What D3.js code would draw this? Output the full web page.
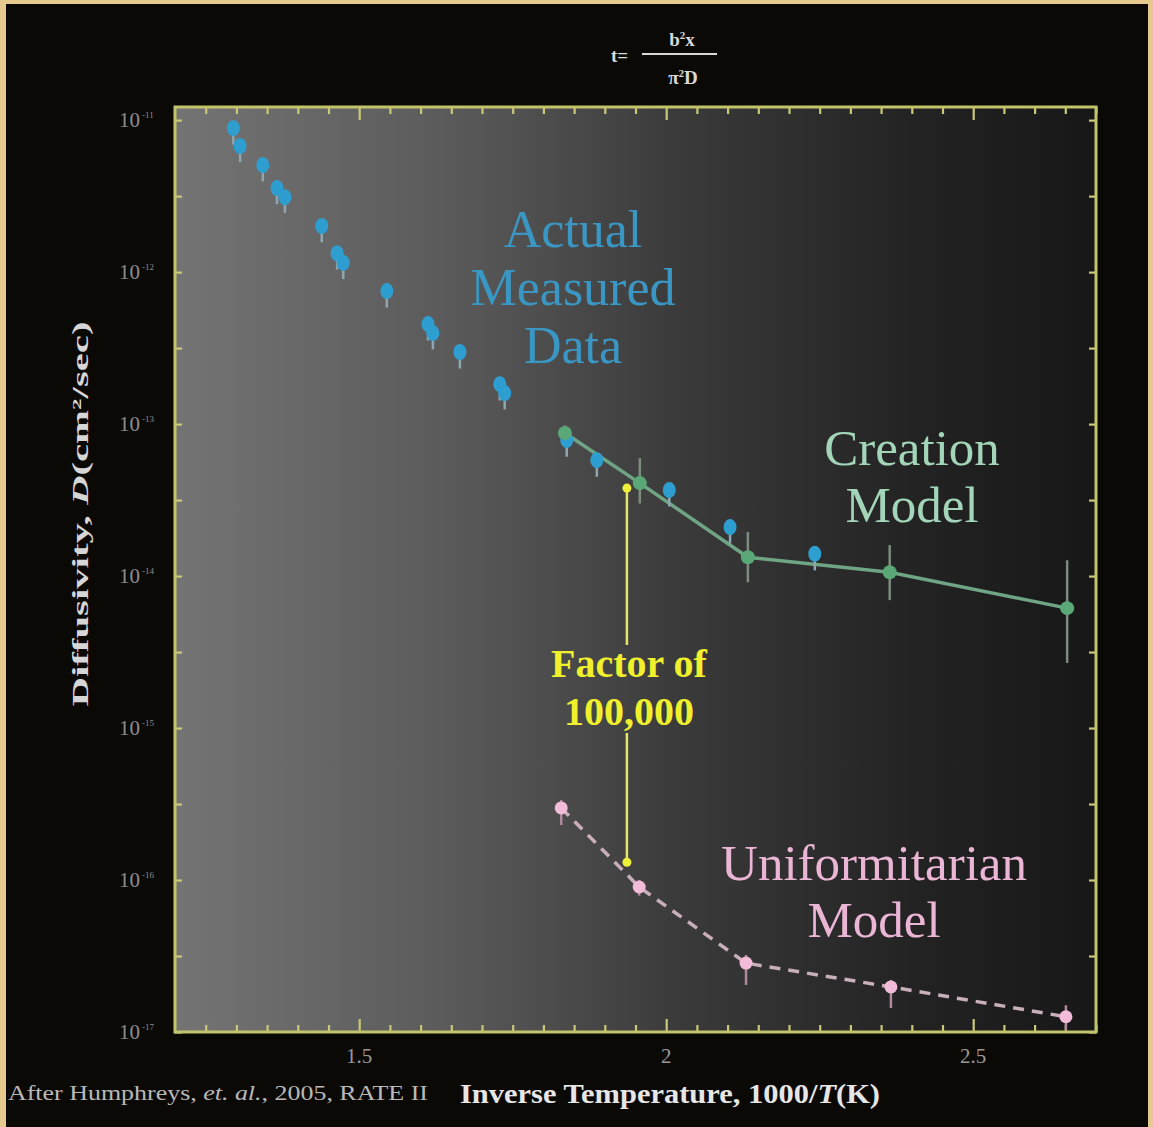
<!DOCTYPE html>
<html><head><meta charset="utf-8">
<script src="https://cdn.jsdelivr.net/npm/d3@7"></script>
<style>html,body{margin:0;padding:0;background:#0b0906;} svg{display:block}</style>
</head><body>
<svg id="c" width="1153" height="1127"></svg>
<script>
// ---- data ----
const measuredX    = [1.295, 1.306, 1.343, 1.366, 1.379, 1.439, 1.464, 1.474, 1.545, 1.612, 1.620, 1.664, 1.729, 1.737, 1.838, 1.887, 2.005, 2.104, 2.242];
const measuredD    = [8.85e-12, 6.75e-12, 5.06e-12, 3.57e-12, 3.11e-12, 2.01e-12, 1.33e-12, 1.15e-12, 7.5e-13, 4.55e-13, 3.97e-13, 2.98e-13, 1.83e-13, 1.60e-13, 7.85e-14, 5.79e-14, 3.68e-14, 2.10e-14, 1.40e-14];
const measuredLow  = [6.9e-12, 5.3e-12, 3.95e-12, 2.8e-12, 2.45e-12, 1.57e-12, 1.04e-12, 9.0e-13, 5.85e-13, 3.55e-13, 3.1e-13, 2.32e-13, 1.43e-13, 1.25e-13, 6.1e-14, 4.5e-14, 2.87e-14, 1.64e-14, 1.09e-14];
const measuredHigh = [9.5e-12, 7.2e-12, 5.4e-12, 3.8e-12, 3.3e-12, 2.15e-12, 1.42e-12, 1.23e-12, 8.0e-13, 4.87e-13, 4.25e-13, 3.19e-13, 1.96e-13, 1.71e-13, 8.4e-14, 6.2e-14, 3.94e-14, 2.25e-14, 1.5e-14];

const creationX    = [1.835, 1.957, 2.133, 2.364, 2.653];
const creationD    = [8.73e-14, 4.09e-14, 1.33e-14, 1.06e-14, 6.15e-15];
const creationLow  = [7.2e-14, 3.0e-14, 9.1e-15, 6.95e-15, 2.68e-15];
const creationHigh = [9.8e-14, 5.97e-14, 1.95e-14, 1.6e-14, 1.27e-14];

const uniformX     = [1.829, 1.956, 2.130, 2.366, 2.651];
const uniformD     = [2.98e-16, 9.0e-17, 2.84e-17, 1.98e-17, 1.26e-17];
const uniformLow   = [2.3e-16, 7.9e-17, 2.04e-17, 1.44e-17, 1.03e-17];
const uniformHigh  = [3.36e-16, 1.0e-16, 3.21e-17, 2.2e-17, 1.5e-17];

const factorX = 1.936;
const factorTop = 3.79e-14;
const factorBottom = 1.31e-16;

const xDomain = [1.2, 2.7];
const yDomain = [1e-17, 1.22e-11];
const xMajorTicks = [1.5, 2, 2.5];
const xTickLabels = ["1.5", "2", "2.5"];
const yExponents = [-11, -12, -13, -14, -15, -16, -17];
const yExpLabels = ["-11", "-12", "-13", "-14", "-15", "-16", "-17"];

// ---- drawing ----
const svg = d3.select("#c");
const W = 1153, H = 1127;
const L = 175, R = 1096, T = 107, B = 1032;

svg.append("rect").attr("x",0).attr("y",0).attr("width",W).attr("height",H).attr("fill","#e6c98c");
svg.append("rect").attr("x",6).attr("y",4).attr("width",W-11).attr("height",H-4).attr("fill","#0b0906");

const defs = svg.append("defs");
const g1 = defs.append("linearGradient").attr("id","bg").attr("x1","0").attr("y1","0").attr("x2","1").attr("y2","0");
g1.append("stop").attr("offset","0").attr("stop-color","#747474");
g1.append("stop").attr("offset","0.3").attr("stop-color","#5a5a5a");
g1.append("stop").attr("offset","0.55").attr("stop-color","#3a3a3a");
g1.append("stop").attr("offset","0.8").attr("stop-color","#232323");
g1.append("stop").attr("offset","1").attr("stop-color","#171717");

const x = d3.scaleLinear().domain(xDomain).range([L, R]);
const y = d3.scaleLog().domain(yDomain).range([B, T]);

svg.append("rect").attr("x",L).attr("y",T).attr("width",R-L).attr("height",B-T).attr("fill","url(#bg)");

const tickColor = "#c9c977";
const xMinor = d3.range(1.25, 2.7, 0.05).filter(v => !xMajorTicks.some(m => Math.abs(m - v) < 1e-6));
const yMajorVals = yExponents.map(e => Math.pow(10, e));
const yMinorVals = yExponents.slice(0, -1).map(e => Math.pow(10, e - 0.5));

function styleAxis(g){
  g.select(".domain").remove();
  g.selectAll(".tick line").attr("stroke", tickColor).attr("stroke-width", 2.2);
  g.selectAll(".tick text").remove();
}
svg.append("g").attr("transform",`translate(0,${B})`).call(d3.axisBottom(x).tickValues(xMajorTicks).tickSize(-13)).call(styleAxis);
svg.append("g").attr("transform",`translate(0,${B})`).call(d3.axisBottom(x).tickValues(xMinor).tickSize(-7)).call(styleAxis);
svg.append("g").attr("transform",`translate(0,${T})`).call(d3.axisTop(x).tickValues(xMajorTicks).tickSize(-13)).call(styleAxis);
svg.append("g").attr("transform",`translate(0,${T})`).call(d3.axisTop(x).tickValues(xMinor).tickSize(-7)).call(styleAxis);
svg.append("g").attr("transform",`translate(${L},0)`).call(d3.axisLeft(y).tickValues(yMajorVals.concat(yMinorVals)).tickSize(-7)).call(styleAxis);
svg.append("g").attr("transform",`translate(${R},0)`).call(d3.axisRight(y).tickValues(yMajorVals.concat(yMinorVals)).tickSize(-7)).call(styleAxis);

svg.append("rect").attr("x",L).attr("y",T).attr("width",R-L).attr("height",B-T)
  .attr("fill","none").attr("stroke","#c2c46c").attr("stroke-width",3);

const serif = "'Liberation Serif','Times New Roman',serif";
svg.append("g").selectAll("text").data(xMajorTicks).join("text")
  .attr("x", d => x(d)).attr("y", 1063).attr("text-anchor","middle")
  .attr("font-family", serif).attr("font-size", 21).attr("fill","#9a9a9a")
  .text((d,i) => xTickLabels[i]);

const yl = svg.append("g").selectAll("text").data(yExponents).join("text")
  .attr("x", 119).attr("y", d => y(Math.pow(10, d)) + 7).attr("text-anchor","start")
  .attr("font-family", serif).attr("font-size", 21).attr("fill","#8e8e8e");
yl.append("tspan").text("10");
yl.append("tspan").attr("dy", -9).attr("dx", 2).attr("font-size", 9).text((d,i) => yExpLabels[i]);

svg.append("text").attr("transform","translate(88,514) rotate(-90)").attr("text-anchor","middle")
  .attr("font-family", serif).attr("font-weight","bold").attr("font-size", 23).attr("fill","#d6d6d6")
  .attr("textLength", 385).attr("lengthAdjust","spacingAndGlyphs")
  .html('Diffusivity, <tspan font-style="italic">D</tspan>(cm<tspan dy="-7" font-size="13">2</tspan><tspan dy="7">/sec)</tspan>');

svg.append("text").attr("x", 460).attr("y", 1103)
  .attr("font-family", serif).attr("font-weight","bold").attr("font-size", 27).attr("fill","#e6e6e6")
  .attr("textLength", 420).attr("lengthAdjust","spacingAndGlyphs")
  .html('Inverse Temperature, 1000/<tspan font-style="italic">T</tspan>(K)');

svg.append("text").attr("x", 8).attr("y", 1100)
  .attr("font-family", serif).attr("font-size", 21).attr("fill","#b9b9b9")
  .attr("textLength", 420).attr("lengthAdjust","spacingAndGlyphs")
  .html('After Humphreys, <tspan font-style="italic">et. al.</tspan>, 2005, RATE II');

const fcol = "#d9d9d9";
svg.append("text").attr("x", 611).attr("y", 62).attr("font-family", serif).attr("font-weight","bold")
  .attr("font-size", 19).attr("fill", fcol).text("t=");
svg.append("line").attr("x1",642).attr("x2",717).attr("y1",54).attr("y2",54).attr("stroke",fcol).attr("stroke-width",2);
svg.append("text").attr("x", 682).attr("y", 46).attr("text-anchor","middle").attr("font-family", serif).attr("font-weight","bold")
  .attr("font-size", 19).attr("fill", fcol).html('b<tspan dy="-7" font-size="11">2</tspan><tspan dy="7">x</tspan>');
svg.append("text").attr("x", 683).attr("y", 84).attr("text-anchor","middle").attr("font-family", serif).attr("font-weight","bold")
  .attr("font-size", 19).attr("fill", fcol).html('π<tspan dy="-7" font-size="11">2</tspan><tspan dy="7">D</tspan>');

function errorBars(xs, lows, highs, color, w){
  svg.append("g").selectAll("line").data(xs).join("line")
    .attr("x1", d => x(d)).attr("x2", d => x(d))
    .attr("y1", (d,i) => y(lows[i])).attr("y2", (d,i) => y(highs[i]))
    .attr("stroke", color).attr("stroke-width", w);
}

errorBars(creationX, creationLow, creationHigh, "#7d8c7e", 2.5);
const line = d3.line().x(d => x(d[0])).y(d => y(d[1]));
svg.append("path").datum(creationX.map((v,i) => [v, creationD[i]])).attr("d", line)
  .attr("fill","none").attr("stroke","#6fa584").attr("stroke-width",3.5);

errorBars(uniformX, uniformLow, uniformHigh, "#b08a9c", 2.5);
svg.append("path").datum(uniformX.map((v,i) => [v, uniformD[i]])).attr("d", line)
  .attr("fill","none").attr("stroke","#c9aebb").attr("stroke-width",3.5).attr("stroke-dasharray","11,8");

errorBars(measuredX, measuredLow, measuredHigh, "#8fa6b0", 2.5);
svg.append("g").selectAll("ellipse").data(measuredX).join("ellipse")
  .attr("cx", d => x(d)).attr("cy", (d,i) => y(measuredD[i]))
  .attr("rx", 6.5).attr("ry", 8).attr("fill","#2e9ed0");

svg.append("g").selectAll("circle").data(creationX).join("circle")
  .attr("cx", d => x(d)).attr("cy", (d,i) => y(creationD[i])).attr("r", 7).attr("fill","#5aa877");

svg.append("g").selectAll("circle").data(uniformX).join("circle")
  .attr("cx", d => x(d)).attr("cy", (d,i) => y(uniformD[i])).attr("r", 6.5).attr("fill","#f2bcd9");

// factor line, hidden behind the label text block
const mask = defs.append("mask").attr("id","fm").attr("maskUnits","userSpaceOnUse")
  .attr("x",0).attr("y",0).attr("width",W).attr("height",H);
mask.append("rect").attr("x",0).attr("y",0).attr("width",W).attr("height",H).attr("fill","white");
mask.append("rect").attr("x", 540).attr("y", 645).attr("width", 180).attr("height", 88).attr("fill","black");
svg.append("line").attr("x1", x(factorX)).attr("x2", x(factorX)).attr("y1", y(factorTop)).attr("y2", y(factorBottom))
  .attr("stroke","#e4e466").attr("stroke-width",2.5).attr("mask","url(#fm)");
svg.append("g").selectAll("circle").data([factorTop, factorBottom]).join("circle")
  .attr("cx", x(factorX)).attr("cy", d => y(d)).attr("r", 4.5).attr("fill","#f0f03a");

function label(lines, cx, y0, dy, size, color, weight){
  svg.append("g").selectAll("text").data(lines).join("text")
    .attr("x", cx).attr("y", (d,i) => y0 + i*dy).attr("text-anchor","middle")
    .attr("font-family", serif).attr("font-size", size).attr("font-weight", weight || "normal")
    .attr("fill", color).text(d => d);
}
label(["Actual", "Measured", "Data"], 573, 247, 58, 52, "#3a97c4");
label(["Creation", "Model"], 912, 465, 57, 51, "#a3d6b9");
label(["Uniformitarian", "Model"], 874, 880, 57, 51, "#ebb6d6");
label(["Factor of", "100,000"], 629, 677, 48, 40, "#f0f02c", "bold");
</script>
</body></html>
